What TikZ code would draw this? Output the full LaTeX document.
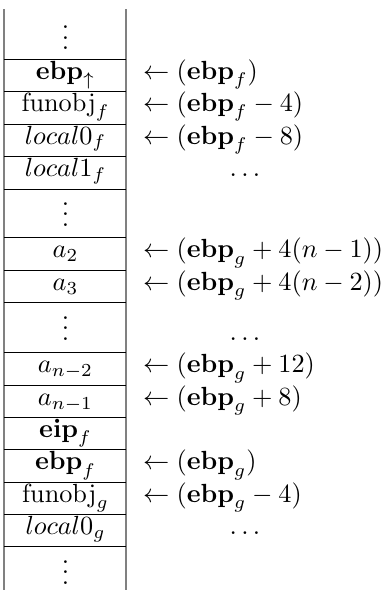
\documentclass[tikz,border=0pt]{standalone}
\begin{document}
\begin{tikzpicture}[x=0.381pt,y=-0.381pt,
  cell/.style={inner sep=0pt,anchor=base},
  addr/.style={inner sep=0pt,anchor=base west},
  rule/.style={black,line width=0.35pt},
  side/.style={gray,line width=0.75pt}]
\useasboundingbox (0,0) rectangle (386,590);
% vertical sides
\draw[side] (4,9) -- (4,590);
\draw[side] (126,9) -- (126,590);
% horizontal rules
\foreach \y in {59.3,91,124,156,189,237.3,270,302.7,352.3,385,417.3,449.3,482,514.3,546}
  \draw[rule] (4,\y) -- (126,\y);
% left column
\node[cell] (d1) at (65.5,49.7) {$\vdots$};
\node[cell] (c2) at (65.5,79.2) {$\mathbf{ebp}_\uparrow$};
\node[cell] (c3) at (65.5,111.5) {$\mathrm{funobj}_f$};
\node[cell] (c4) at (65.5,144) {$local0_f$};
\node[cell] (c5) at (65.5,176.5) {$local1_f$};
\node[cell] (d6) at (65.5,226.4) {$\vdots$};
\node[cell] (c7) at (65.5,257.6) {$a_2$};
\node[cell] (c8) at (65.5,290.3) {$a_3$};
\node[cell] (d9) at (65.5,340.4) {$\vdots$};
\node[cell] (c10) at (65.5,372.6) {$a_{n-2}$};
\node[cell] (c11) at (65.5,405.1) {$a_{n-1}$};
\node[cell] (c12) at (65.5,437.3) {$\mathbf{eip}_f$};
\node[cell] (c13) at (65.5,469.6) {$\mathbf{ebp}_f$};
\node[cell] (c14) at (65.5,502.1) {$\mathrm{funobj}_g$};
\node[cell] (c15) at (65.5,534.1) {$local0_g$};
\node[cell] (d16) at (65.5,584.4) {$\vdots$};
% right column
\node[addr] (r2) at (142.5,79.2) {$\leftarrow (\mathbf{ebp}_f)$};
\node[addr] (r3) at (142.5,111.5) {$\leftarrow (\mathbf{ebp}_f - 4)$};
\node[addr] (r4) at (142.5,144) {$\leftarrow (\mathbf{ebp}_f - 8)$};
\node[cell] (r5) at (245,176.5) {$\ldots$};
\node[addr] (r7) at (142.5,257.6) {$\leftarrow (\mathbf{ebp}_g + 4(n-1))$};
\node[addr] (r8) at (142.5,290.3) {$\leftarrow (\mathbf{ebp}_g + 4(n-2))$};
\node[cell] (r9) at (245,340.4) {$\ldots$};
\node[addr] (r10) at (142.5,372.6) {$\leftarrow (\mathbf{ebp}_g + 12)$};
\node[addr] (r11) at (142.5,405.1) {$\leftarrow (\mathbf{ebp}_g + 8)$};
\node[addr] (r13) at (142.5,469.6) {$\leftarrow (\mathbf{ebp}_g)$};
\node[addr] (r14) at (142.5,502.1) {$\leftarrow (\mathbf{ebp}_g - 4)$};
\node[cell] (r15) at (245,534.1) {$\ldots$};
\end{tikzpicture}
\end{document}
